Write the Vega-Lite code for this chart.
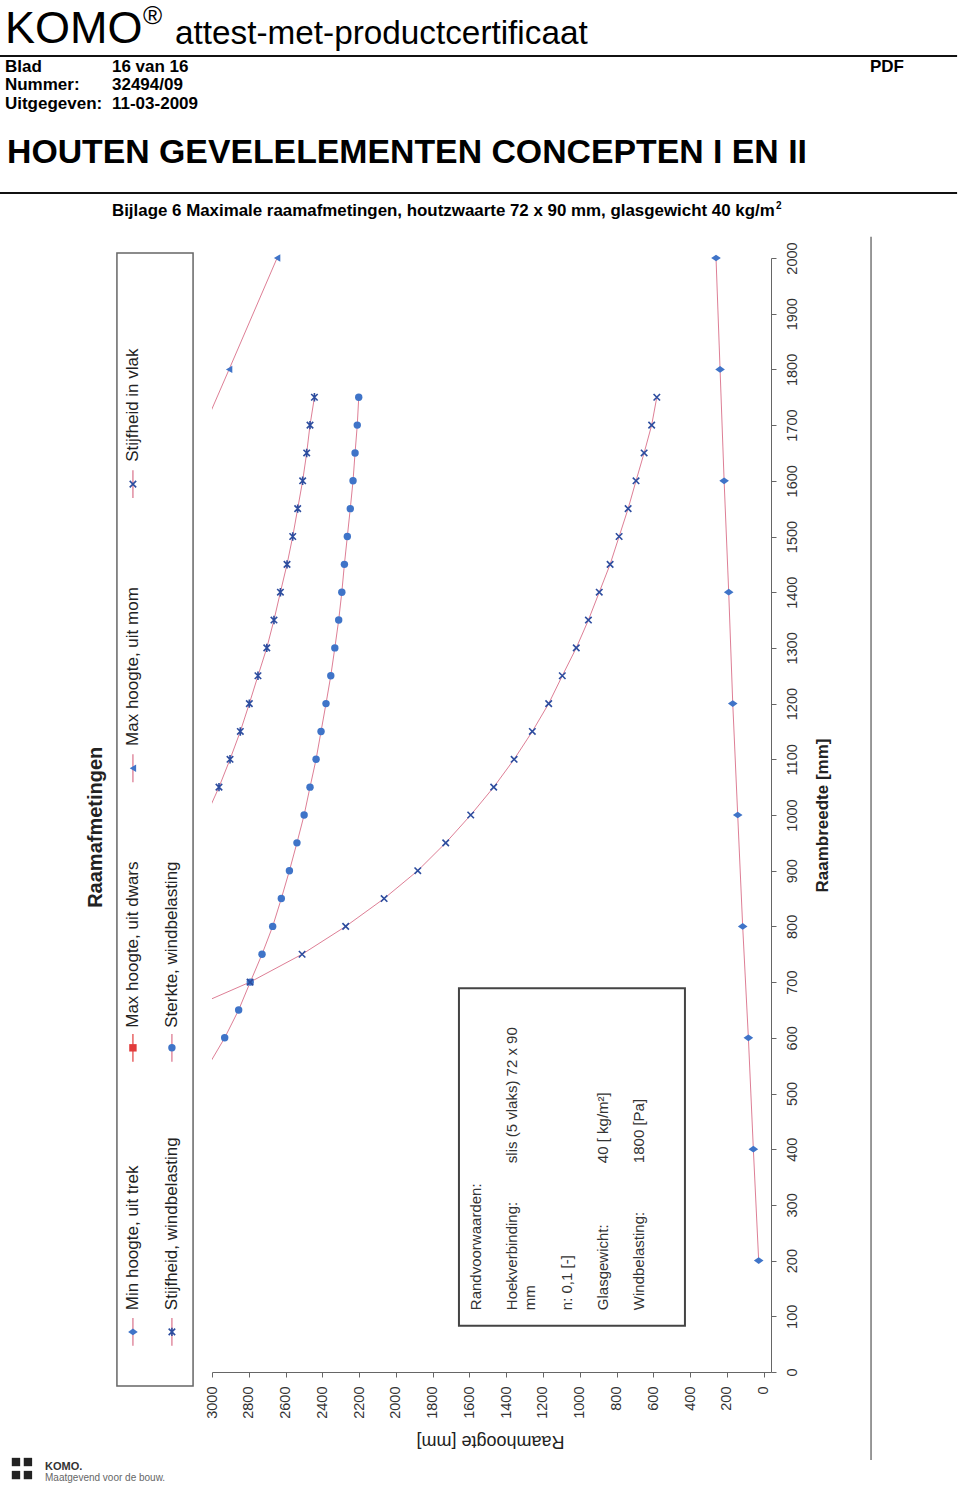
{
  "$schema": "https://vega.github.io/schema/vega-lite/v6.json",
  "width": 559,
  "height": 1114,
  "autosize": "none",
  "padding": {"left": 212, "top": 258, "right": 189, "bottom": 115},
  "background": "white",
  "config": {"view": {"stroke": null}, "font": "Liberation Sans"},
  "datasets": {
    "pts": [
      {"s": "Min hoogte, uit trek", "b": 200, "h": 27},
      {"s": "Min hoogte, uit trek", "b": 400, "h": 56},
      {"s": "Min hoogte, uit trek", "b": 600, "h": 83},
      {"s": "Min hoogte, uit trek", "b": 800, "h": 114},
      {"s": "Min hoogte, uit trek", "b": 1000, "h": 141},
      {"s": "Min hoogte, uit trek", "b": 1200, "h": 168},
      {"s": "Min hoogte, uit trek", "b": 1400, "h": 190},
      {"s": "Min hoogte, uit trek", "b": 1600, "h": 215},
      {"s": "Min hoogte, uit trek", "b": 1800, "h": 237},
      {"s": "Min hoogte, uit trek", "b": 2000, "h": 259},
      {"s": "Max hoogte, uit mom", "b": 1600, "h": 3170},
      {"s": "Max hoogte, uit mom", "b": 1800, "h": 2907},
      {"s": "Max hoogte, uit mom", "b": 2000, "h": 2646},
      {"s": "Stijfheid, windbelasting", "b": 1000, "h": 3030},
      {"s": "Stijfheid, windbelasting", "b": 1050, "h": 2962},
      {"s": "Stijfheid, windbelasting", "b": 1100, "h": 2902},
      {"s": "Stijfheid, windbelasting", "b": 1150, "h": 2846},
      {"s": "Stijfheid, windbelasting", "b": 1200, "h": 2797},
      {"s": "Stijfheid, windbelasting", "b": 1250, "h": 2750},
      {"s": "Stijfheid, windbelasting", "b": 1300, "h": 2702},
      {"s": "Stijfheid, windbelasting", "b": 1350, "h": 2663},
      {"s": "Stijfheid, windbelasting", "b": 1400, "h": 2628},
      {"s": "Stijfheid, windbelasting", "b": 1450, "h": 2592},
      {"s": "Stijfheid, windbelasting", "b": 1500, "h": 2561},
      {"s": "Stijfheid, windbelasting", "b": 1550, "h": 2534},
      {"s": "Stijfheid, windbelasting", "b": 1600, "h": 2507},
      {"s": "Stijfheid, windbelasting", "b": 1650, "h": 2485},
      {"s": "Stijfheid, windbelasting", "b": 1700, "h": 2467},
      {"s": "Stijfheid, windbelasting", "b": 1750, "h": 2443},
      {"s": "Sterkte, windbelasting", "b": 550, "h": 3020},
      {"s": "Sterkte, windbelasting", "b": 600, "h": 2931},
      {"s": "Sterkte, windbelasting", "b": 650, "h": 2855},
      {"s": "Sterkte, windbelasting", "b": 700, "h": 2792},
      {"s": "Sterkte, windbelasting", "b": 750, "h": 2728},
      {"s": "Sterkte, windbelasting", "b": 800, "h": 2670},
      {"s": "Sterkte, windbelasting", "b": 850, "h": 2623},
      {"s": "Sterkte, windbelasting", "b": 900, "h": 2579},
      {"s": "Sterkte, windbelasting", "b": 950, "h": 2538},
      {"s": "Sterkte, windbelasting", "b": 1000, "h": 2499},
      {"s": "Sterkte, windbelasting", "b": 1050, "h": 2467},
      {"s": "Sterkte, windbelasting", "b": 1100, "h": 2434},
      {"s": "Sterkte, windbelasting", "b": 1150, "h": 2407},
      {"s": "Sterkte, windbelasting", "b": 1200, "h": 2380},
      {"s": "Sterkte, windbelasting", "b": 1250, "h": 2354},
      {"s": "Sterkte, windbelasting", "b": 1300, "h": 2332},
      {"s": "Sterkte, windbelasting", "b": 1350, "h": 2311},
      {"s": "Sterkte, windbelasting", "b": 1400, "h": 2294},
      {"s": "Sterkte, windbelasting", "b": 1450, "h": 2280},
      {"s": "Sterkte, windbelasting", "b": 1500, "h": 2264},
      {"s": "Sterkte, windbelasting", "b": 1550, "h": 2248},
      {"s": "Sterkte, windbelasting", "b": 1600, "h": 2233},
      {"s": "Sterkte, windbelasting", "b": 1650, "h": 2222},
      {"s": "Sterkte, windbelasting", "b": 1700, "h": 2210},
      {"s": "Sterkte, windbelasting", "b": 1750, "h": 2202},
      {"s": "Stijfheid in vlak", "b": 650, "h": 3140},
      {"s": "Stijfheid in vlak", "b": 700, "h": 2793},
      {"s": "Stijfheid in vlak", "b": 750, "h": 2510},
      {"s": "Stijfheid in vlak", "b": 800, "h": 2273},
      {"s": "Stijfheid in vlak", "b": 850, "h": 2064},
      {"s": "Stijfheid in vlak", "b": 900, "h": 1881},
      {"s": "Stijfheid in vlak", "b": 950, "h": 1729},
      {"s": "Stijfheid in vlak", "b": 1000, "h": 1593},
      {"s": "Stijfheid in vlak", "b": 1050, "h": 1468},
      {"s": "Stijfheid in vlak", "b": 1100, "h": 1357},
      {"s": "Stijfheid in vlak", "b": 1150, "h": 1258},
      {"s": "Stijfheid in vlak", "b": 1200, "h": 1169},
      {"s": "Stijfheid in vlak", "b": 1250, "h": 1095},
      {"s": "Stijfheid in vlak", "b": 1300, "h": 1019},
      {"s": "Stijfheid in vlak", "b": 1350, "h": 953},
      {"s": "Stijfheid in vlak", "b": 1400, "h": 894},
      {"s": "Stijfheid in vlak", "b": 1450, "h": 835},
      {"s": "Stijfheid in vlak", "b": 1500, "h": 786},
      {"s": "Stijfheid in vlak", "b": 1550, "h": 737},
      {"s": "Stijfheid in vlak", "b": 1600, "h": 694},
      {"s": "Stijfheid in vlak", "b": 1650, "h": 650},
      {"s": "Stijfheid in vlak", "b": 1700, "h": 609},
      {"s": "Stijfheid in vlak", "b": 1750, "h": 581}
    ],
    "legsym": [
      {"s": "Min hoogte, uit trek", "h": 3430, "b": 72},
      {"s": "Max hoogte, uit dwars", "h": 3430, "b": 582},
      {"s": "Max hoogte, uit mom", "h": 3430, "b": 1084},
      {"s": "Stijfheid in vlak", "h": 3430, "b": 1594},
      {"s": "Stijfheid, windbelasting", "h": 3218, "b": 72},
      {"s": "Sterkte, windbelasting", "h": 3218, "b": 582}
    ],
    "legline": [
      {"s": "Min hoogte, uit trek", "h": 3430, "b": 47, "b2": 97},
      {"s": "Max hoogte, uit dwars", "h": 3430, "b": 557, "b2": 607},
      {"s": "Max hoogte, uit mom", "h": 3430, "b": 1059, "b2": 1109},
      {"s": "Stijfheid in vlak", "h": 3430, "b": 1569, "b2": 1619},
      {"s": "Stijfheid, windbelasting", "h": 3218, "b": 47, "b2": 97},
      {"s": "Sterkte, windbelasting", "h": 3218, "b": 557, "b2": 607}
    ],
    "legtxt": [
      {"s": "Min hoogte, uit trek", "h": 3430, "b": 111},
      {"s": "Max hoogte, uit dwars", "h": 3430, "b": 618},
      {"s": "Max hoogte, uit mom", "h": 3430, "b": 1124},
      {"s": "Stijfheid in vlak", "h": 3430, "b": 1634},
      {"s": "Stijfheid, windbelasting", "h": 3218, "b": 111},
      {"s": "Sterkte, windbelasting", "h": 3218, "b": 618}
    ]
  },
  "encoding": {
    "x": {"field": "h", "type": "quantitative", "scale": {"domain": [-40, 3000], "reverse": true, "nice": false, "zero": false},
      "axis": {"values": [0, 200, 400, 600, 800, 1000, 1200, 1400, 1600, 1800, 2000, 2200, 2400, 2600, 2800, 3000], "format": "d",
        "orient": "bottom", "grid": false, "labelAngle": 270, "labelAlign": "right", "labelBaseline": "middle",
        "labelFontSize": 14.5, "labelFont": "Liberation Sans", "labelColor": "#333", "labelPadding": 9, "labelFlush": false, "labelOverlap": false,
        "tickSize": 5, "tickColor": "#666", "domainColor": "#666",
        "title": "Raamhoogte [mm]", "titleFont": "Liberation Sans", "titleFontSize": 18, "titleFontWeight": "normal", "titleColor": "#222",
        "titleAngle": 180, "titleAlign": "center", "titleBaseline": "middle", "titleX": 278, "titleY": 68}},
    "y": {"field": "b", "type": "quantitative", "scale": {"domain": [0, 2000], "nice": false, "zero": false},
      "axis": {"values": [0, 100, 200, 300, 400, 500, 600, 700, 800, 900, 1000, 1100, 1200, 1300, 1400, 1500, 1600, 1700, 1800, 1900, 2000], "format": "d",
        "orient": "right", "grid": false, "labelAngle": 270, "labelAlign": "center", "labelBaseline": "top",
        "labelFontSize": 14.5, "labelFont": "Liberation Sans", "labelColor": "#333", "labelPadding": 9, "labelFlush": false, "labelOverlap": false,
        "tickSize": 5, "tickColor": "#666", "domainColor": "#666",
        "title": "Raambreedte [mm]", "titleFont": "Liberation Sans", "titleFontSize": 17, "titleFontWeight": "bold", "titleColor": "#222",
        "titleAngle": 270, "titleAlign": "center", "titleBaseline": "middle", "titleX": 51, "titleY": 557}}
  },
  "layer": [
    {
      "data": {"name": "pts"},
      "mark": {"type": "line", "clip": true, "color": "#d9708a", "strokeWidth": 1, "opacity": 0.9},
      "encoding": {
        "detail": {"field": "s"},
        "order": {"field": "b", "type": "quantitative"}
      }
    },
    {
      "data": {"name": "pts"},
      "transform": [{"filter": "datum.s !== 'Stijfheid, windbelasting' && datum.s !== 'Stijfheid in vlak' && datum.h <= 3000"}],
      "mark": {"type": "point", "filled": true, "size": 55, "opacity": 1},
      "encoding": {
        "shape": {"field": "s", "type": "nominal", "legend": null, "scale": {"domain": ["Min hoogte, uit trek", "Max hoogte, uit dwars", "Max hoogte, uit mom", "Stijfheid, windbelasting", "Sterkte, windbelasting", "Stijfheid in vlak"], "range": ["M-1.3,0L0,-0.9L1.3,0L0,0.9Z", "square", "triangle-left", "M-1,-1L1,1M-1,1L1,-1M0,-1.3L0,1.3", "circle", "M-1,-1L1,1M-1,1L1,-1"]}},
        "color": {"field": "s", "type": "nominal", "legend": null, "scale": {"domain": ["Min hoogte, uit trek", "Max hoogte, uit dwars", "Max hoogte, uit mom", "Stijfheid, windbelasting", "Sterkte, windbelasting", "Stijfheid in vlak"], "range": ["#3f74c8", "#e23b3b", "#3f74c8", "#2d4d9f", "#3f74c8", "#2d4d9f"]}}
      }
    },
    {
      "data": {"name": "pts"},
      "transform": [{"filter": "(datum.s === 'Stijfheid, windbelasting' || datum.s === 'Stijfheid in vlak') && datum.h <= 3000"}],
      "mark": {"type": "point", "filled": false, "size": 42, "strokeWidth": 1.6, "opacity": 1},
      "encoding": {
        "shape": {"field": "s", "type": "nominal", "legend": null},
        "color": {"field": "s", "type": "nominal", "legend": null}
      }
    },
    {
      "data": {"values": [{"h": 3517, "h2": 3103, "b": 2009, "b2": -25}]},
      "mark": {"type": "rect", "fill": null, "stroke": "#666", "strokeWidth": 1.5},
      "encoding": {"x2": {"field": "h2"}, "y2": {"field": "b2"}}
    },
    {
      "data": {"name": "legline"},
      "mark": {"type": "rule", "strokeWidth": 1.2},
      "encoding": {
        "y2": {"field": "b2"},
        "stroke": {"condition": {"test": "datum.s === 'Max hoogte, uit dwars'", "value": "#e23b3b"}, "value": "#d9708a"}
      }
    },
    {
      "data": {"name": "legsym"},
      "transform": [{"filter": "datum.s !== 'Stijfheid, windbelasting' && datum.s !== 'Stijfheid in vlak'"}],
      "mark": {"type": "point", "filled": true, "size": 55, "opacity": 1},
      "encoding": {
        "shape": {"field": "s", "type": "nominal", "legend": null},
        "color": {"field": "s", "type": "nominal", "legend": null}
      }
    },
    {
      "data": {"name": "legsym"},
      "transform": [{"filter": "datum.s === 'Stijfheid, windbelasting' || datum.s === 'Stijfheid in vlak'"}],
      "mark": {"type": "point", "filled": false, "size": 42, "strokeWidth": 1.6, "opacity": 1},
      "encoding": {
        "shape": {"field": "s", "type": "nominal", "legend": null},
        "color": {"field": "s", "type": "nominal", "legend": null}
      }
    },
    {
      "data": {"name": "legtxt"},
      "mark": {"type": "text", "angle": 270, "align": "left", "baseline": "middle", "fontSize": 17, "font": "Liberation Sans", "color": "#222"},
      "encoding": {"text": {"field": "s"}}
    },
    {
      "data": {"values": [{"t": "Raamafmetingen", "h": 3631, "b": 978}]},
      "mark": {"type": "text", "angle": 270, "align": "center", "baseline": "middle", "fontSize": 20, "fontWeight": "bold", "font": "Liberation Sans", "color": "#222"},
      "encoding": {"text": {"field": "t"}}
    },
    {
      "data": {"values": [{"h": 1657, "h2": 428, "b": 689, "b2": 83}]},
      "mark": {"type": "rect", "fill": "white", "stroke": "#444", "strokeWidth": 2},
      "encoding": {"x2": {"field": "h2"}, "y2": {"field": "b2"}}
    },
    {
      "data": {"values": [
        {"t": "Randvoorwaarden:", "h": 1564, "b": 111},
        {"t": "Hoekverbinding:", "h": 1368, "b": 111},
        {"t": "slis (5 vlaks) 72 x 90", "h": 1368, "b": 375},
        {"t": "mm", "h": 1271, "b": 111},
        {"t": "n: 0,1 [-]", "h": 1069, "b": 111},
        {"t": "Glasgewicht:", "h": 874, "b": 111},
        {"t": "40 [ kg/m²]", "h": 874, "b": 375},
        {"t": "Windbelasting:", "h": 678, "b": 111},
        {"t": "1800 [Pa]", "h": 678, "b": 375}
      ]},
      "mark": {"type": "text", "angle": 270, "align": "left", "baseline": "middle", "fontSize": 15, "font": "Liberation Sans", "color": "#333"},
      "encoding": {"text": {"field": "t"}}
    },
    {
      "data": {"values": [{"h": -584, "b": 2038, "b2": -158}]},
      "mark": {"type": "rule", "stroke": "#777", "strokeWidth": 1.5},
      "encoding": {"y2": {"field": "b2"}}
    },
    {
      "data": {"values": [{"h": 4153, "h2": -1052, "b": 2362.7}, {"h": 4153, "h2": -1052, "b": 2116.7}]},
      "mark": {"type": "rule", "stroke": "#111", "strokeWidth": 2},
      "encoding": {"x2": {"field": "h2"}}
    },
    {
      "data": {"values": [{"t": "KOMO", "h": 4126, "b": 2386}]},
      "mark": {"type": "text", "align": "left", "baseline": "alphabetic", "fontSize": 45, "font": "Liberation Sans", "color": "#000"},
      "encoding": {"text": {"field": "t"}}
    },
    {
      "data": {"values": [{"t": "®", "h": 3375, "b": 2420}]},
      "mark": {"type": "text", "align": "left", "baseline": "alphabetic", "fontSize": 26, "font": "Liberation Sans", "color": "#000"},
      "encoding": {"text": {"field": "t"}}
    },
    {
      "data": {"values": [{"t": "attest-met-productcertificaat", "h": 3201, "b": 2384}]},
      "mark": {"type": "text", "align": "left", "baseline": "alphabetic", "fontSize": 33.3, "font": "Liberation Sans", "color": "#000"},
      "encoding": {"text": {"field": "t"}}
    },
    {
      "data": {"values": [
        {"t": "Blad", "h": 4126, "b": 2334},
        {"t": "16 van 16", "h": 3544, "b": 2334},
        {"t": "PDF", "h": -578, "b": 2334},
        {"t": "Nummer:", "h": 4126, "b": 2301.6},
        {"t": "32494/09", "h": 3544, "b": 2301.6},
        {"t": "Uitgegeven:", "h": 4126, "b": 2267.5},
        {"t": "11-03-2009", "h": 3544, "b": 2267.5}
      ]},
      "mark": {"type": "text", "align": "left", "baseline": "alphabetic", "fontSize": 17, "fontWeight": "bold", "font": "Liberation Sans", "color": "#000"},
      "encoding": {"text": {"field": "t"}}
    },
    {
      "data": {"values": [{"t": "HOUTEN GEVELELEMENTEN CONCEPTEN I EN II", "h": 4115, "b": 2170.6}]},
      "mark": {"type": "text", "align": "left", "baseline": "alphabetic", "fontSize": 33.8, "fontWeight": "bold", "font": "Liberation Sans", "color": "#000"},
      "encoding": {"text": {"field": "t"}}
    },
    {
      "data": {"values": [{"t": "Bijlage 6 Maximale raamafmetingen, houtzwaarte 72 x 90 mm, glasgewicht 40 kg/m", "h": 3544, "b": 2075.4}]},
      "mark": {"type": "text", "align": "left", "baseline": "alphabetic", "fontSize": 16.9, "fontWeight": "bold", "font": "Liberation Sans", "color": "#000"},
      "encoding": {"text": {"field": "t"}}
    },
    {
      "data": {"values": [{"t": "2", "h": -67, "b": 2088}]},
      "mark": {"type": "text", "align": "left", "baseline": "alphabetic", "fontSize": 10, "fontWeight": "bold", "font": "Liberation Sans", "color": "#000"},
      "encoding": {"text": {"field": "t"}}
    },
    {
      "data": {"values": [{"h": 4066, "b": -161.6}, {"h": 4001, "b": -161.6}, {"h": 4066, "b": -185}, {"h": 4001, "b": -185}]},
      "mark": {"type": "square", "size": 70, "color": "#222", "opacity": 1}
    },
    {
      "data": {"values": [{"t": "KOMO.", "h": 3908, "b": -176}]},
      "mark": {"type": "text", "align": "left", "baseline": "alphabetic", "fontSize": 11, "fontWeight": "bold", "font": "Liberation Sans", "color": "#333"},
      "encoding": {"text": {"field": "t"}}
    },
    {
      "data": {"values": [{"t": "Maatgevend voor de bouw.", "h": 3908, "b": -196}]},
      "mark": {"type": "text", "align": "left", "baseline": "alphabetic", "fontSize": 10, "font": "Liberation Sans", "color": "#666"},
      "encoding": {"text": {"field": "t"}}
    }
  ]
}
